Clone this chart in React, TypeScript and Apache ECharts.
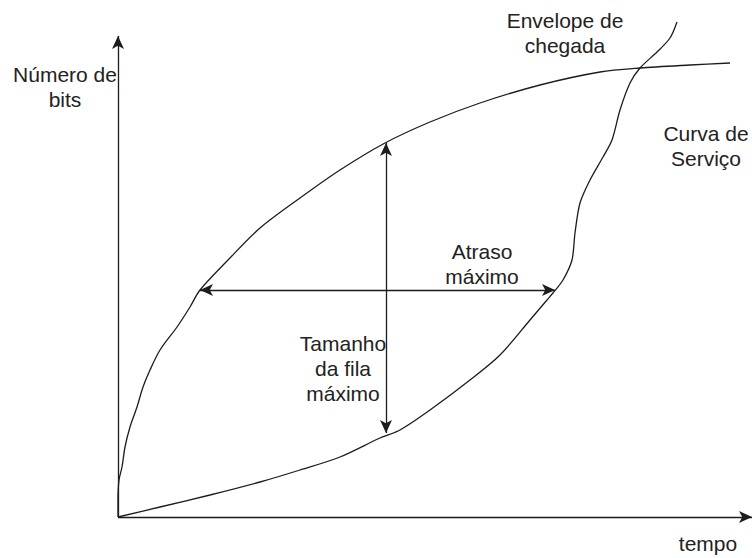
import React, { useEffect, useRef } from "react";
import * as echarts from "echarts";

// Values in chart units: x = time, y = bits (origin at the axes' crossing)
const arrivalEnvelope: [number, number][] = [
  [0, 0], [0, 17], [1, 37], [4, 50], [7, 70], [12, 90], [19, 110], [25, 130],
  [32, 147], [42, 167], [59, 190], [72, 210], [82, 227], [110, 257], [142, 289],
  [182, 319], [222, 347], [267, 374], [312, 395], [362, 414], [422, 432],
  [482, 445], [522, 449], [572, 452], [612, 454],
];
const serviceCurve: [number, number][] = [
  [0, 0], [42, 10], [92, 22], [142, 35], [182, 47], [222, 60], [262, 79],
  [282, 87], [312, 107], [352, 137], [382, 162], [412, 197], [429, 217],
  [435, 224], [445, 237], [454, 257], [457, 284], [462, 314], [472, 337],
  [485, 360], [494, 377], [502, 407], [512, 434], [522, 449], [539, 465],
  [552, 479], [559, 495],
];
const xAxisArrow: [number, number][] = [[0, 0], [634, 0]];
const yAxisArrow: [number, number][] = [[0, 0], [0, 481]];
const maxQueueArrow: [number, number][] = [[268, 84], [268, 374]];
const maxDelayArrow: [number, number][] = [[82, 227], [437, 227]];

const labels = {
  yTitle: "Número de\nbits",
  xTitle: "tempo",
  arrival: "Envelope de\nchegada",
  service: "Curva de\nServiço",
  delay: "Atraso\nmáximo",
  queue: "Tamanho\nda fila\nmáximo",
};

const INK = "#1c1c1c";
const FONT = "'Liberation Sans', Arial, Helvetica, sans-serif";

export default function App() {
  const ref = useRef<HTMLDivElement>(null);
  useEffect(() => {
    document.body.style.margin = "0";
    const chart = echarts.init(ref.current!, null, { renderer: "svg" });
    const seg = (pts: [number, number][], sym: string[]) => ({
      symbol: sym,
      coords: pts,
    });
    const arrowLines = (lines: any[]) => ({
      silent: true,
      symbolSize: [9, 13],
      label: { show: false },
      emphasis: { disabled: true },
      lineStyle: { color: INK, width: 1.3, type: "solid" },
      data: lines.map((l) => [
        { coord: l.coords[0], symbol: l.symbol[0] },
        { coord: l.coords[1], symbol: l.symbol[1] },
      ]),
    });
    const text = (t: string, x: number, y: number) => ({
      type: "text",
      x,
      y,
      style: {
        text: t,
        fill: "#222",
        font: `21px ${FONT}`,
        textAlign: "center",
        textVerticalAlign: "top",
        lineHeight: 25,
      },
    });
    chart.setOption({
      animation: false,
      grid: { left: 118, right: 0, top: 0, bottom: 41 },
      xAxis: {
        type: "value", min: 0, max: 634, show: false,
      },
      yAxis: {
        type: "value", min: 0, max: 517, show: false,
      },
      series: [
        {
          type: "line",
          data: arrivalEnvelope,
          smooth: 0.3,
          showSymbol: false,
          lineStyle: { color: INK, width: 1.3 },
          emphasis: { disabled: true },
          markLine: arrowLines([
            seg(xAxisArrow, ["none", "arrow"]),
            seg(yAxisArrow, ["none", "arrow"]),
            seg(maxQueueArrow, ["arrow", "arrow"]),
            seg(maxDelayArrow, ["arrow", "arrow"]),
          ]),
        },
        {
          type: "line",
          data: serviceCurve,
          smooth: 0.3,
          showSymbol: false,
          lineStyle: { color: INK, width: 1.3 },
          emphasis: { disabled: true },
        },
      ],
      graphic: [
        text(labels.yTitle, 65, 62),
        text(labels.arrival, 565, 8),
        text(labels.service, 706, 121),
        text(labels.delay, 482, 239),
        text(labels.queue, 343, 331),
        text(labels.xTitle, 708, 531),
      ],
    });
    return () => chart.dispose();
  }, []);
  return <div ref={ref} style={{ width: 752, height: 558 }} />;
}
